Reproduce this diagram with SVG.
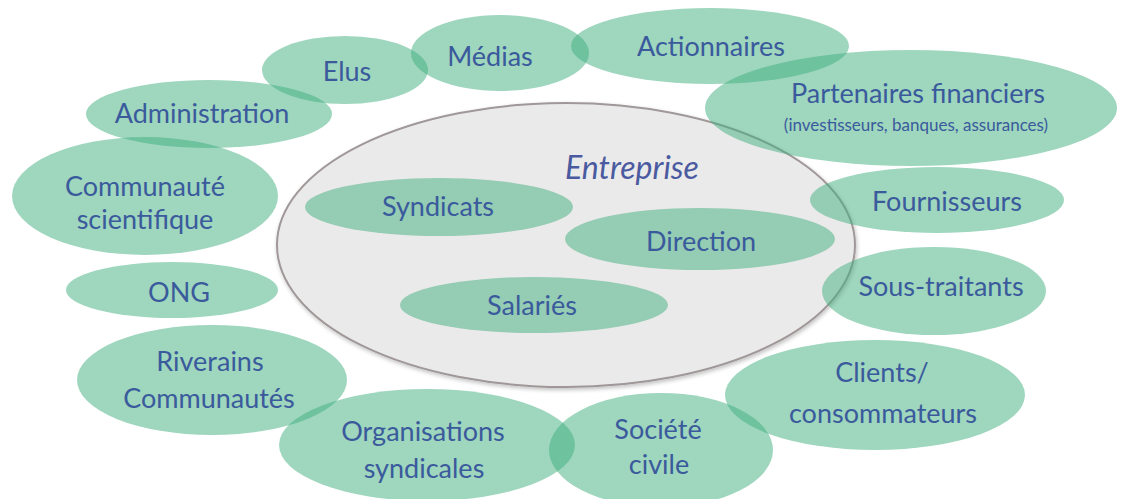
<svg xmlns="http://www.w3.org/2000/svg" width="1121" height="499" viewBox="0 0 1121 499">
<defs>
<style>
.n{fill:#3dae7e;fill-opacity:0.5;}
.t{font-family:"Lato","Open Sans","Liberation Sans",sans-serif;font-size:27px;fill:#3a5a9c;text-anchor:middle;dominant-baseline:central;}
.s{font-size:17px;}
.e{fill:#ebeaea;stroke:#a09898;stroke-width:2;}
.i{font-style:italic;font-size:32px;fill:#4a5aa0;}
</style>
<filter id="sh" x="-10%" y="-10%" width="120%" height="120%"><feGaussianBlur in="SourceAlpha" stdDeviation="2"/><feOffset dx="1" dy="2"/><feComponentTransfer><feFuncA type="linear" slope="0.25"/></feComponentTransfer><feMerge><feMergeNode/><feMergeNode in="SourceGraphic"/></feMerge></filter>
</defs>
<rect width="1121" height="499" fill="#ffffff"/>
<g id="entreprise">
<ellipse class="e" cx="566" cy="245" rx="289" ry="142" filter="url(#sh)"/>
<text class="t i" x="632" y="166">Entreprise</text>
</g>
<g id="syndicats"><ellipse class="n" cx="439" cy="207" rx="134" ry="29"/><text class="t" x="438" y="205">Syndicats</text></g>
<g id="direction"><ellipse class="n" cx="700" cy="239" rx="135" ry="31"/><text class="t" x="701" y="240">Direction</text></g>
<g id="salaries"><ellipse class="n" cx="534" cy="305" rx="134" ry="28"/><text class="t" x="532" y="304">Salariés</text></g>
<g id="elus"><ellipse class="n" cx="345" cy="70" rx="83" ry="34"/><text class="t" x="347" y="70">Elus</text></g>
<g id="medias"><ellipse class="n" cx="500" cy="53" rx="89" ry="38"/><text class="t" x="490" y="55">Médias</text></g>
<g id="actionnaires"><ellipse class="n" cx="710" cy="46" rx="139" ry="38"/><text class="t" x="711" y="45">Actionnaires</text></g>
<g id="partenaires"><ellipse class="n" cx="911" cy="108" rx="206" ry="58"/><text class="t" x="918" y="92">Partenaires financiers</text><text class="t s" x="916" y="124">(investisseurs, banques, assurances)</text></g>
<g id="administration"><ellipse class="n" cx="209" cy="114" rx="123" ry="34"/><text class="t" x="202" y="112">Administration</text></g>
<g id="communaute"><ellipse class="n" cx="145" cy="196" rx="133" ry="59"/><text class="t" x="145" y="185">Communauté</text><text class="t" x="145" y="218">scientifique</text></g>
<g id="ong"><ellipse class="n" cx="172" cy="290" rx="106" ry="28"/><text class="t" x="179" y="291">ONG</text></g>
<g id="riverains"><ellipse class="n" cx="212" cy="380" rx="135" ry="55"/><text class="t" x="210" y="360">Riverains</text><text class="t" x="209" y="397">Communautés</text></g>
<g id="organisations"><ellipse class="n" cx="427" cy="445" rx="148" ry="56"/><text class="t" x="423" y="430">Organisations</text><text class="t" x="424" y="467">syndicales</text></g>
<g id="societe"><ellipse class="n" cx="661" cy="450" rx="112" ry="57"/><text class="t" x="658" y="428">Société</text><text class="t" x="659" y="463">civile</text></g>
<g id="clients"><ellipse class="n" cx="875" cy="395" rx="150" ry="55"/><text class="t" x="882" y="371">Clients/</text><text class="t" x="883" y="412">consommateurs</text></g>
<g id="soustraitants"><ellipse class="n" cx="934" cy="291" rx="112" ry="44"/><text class="t" x="941" y="285">Sous-traitants</text></g>
<g id="fournisseurs"><ellipse class="n" cx="937" cy="200" rx="127" ry="33"/><text class="t" x="947" y="200">Fournisseurs</text></g>
<g id="connectors"/>
</svg>
